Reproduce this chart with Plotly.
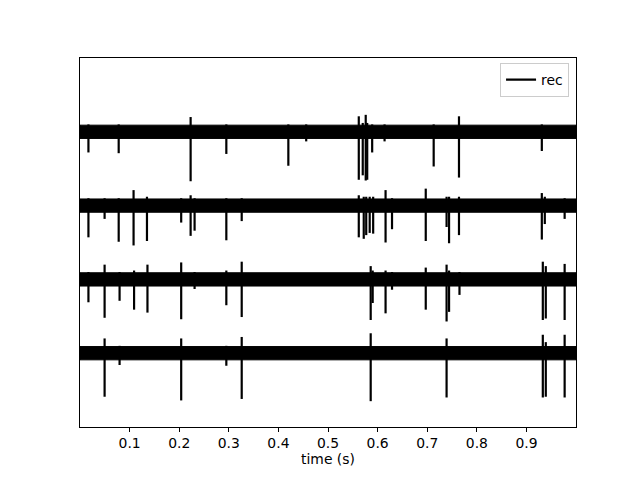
import plotly.graph_objects as go

# channel names and vertical offsets (channel spacing = 1 unit)
channels = ["ch0", "ch1", "ch2", "ch3"]
offsets = [3, 2, 1, 0]
noise_half = [0.09, 0.09, 0.09, 0.09]  # half-height of the noise band (units)
t_start, t_end = 0.0, 0.9999

# spikes per channel: times (s), trough (negative, relative to baseline), peak (positive)
spike_t = [
    [0.017, 0.078, 0.223, 0.295, 0.420, 0.456, 0.562, 0.570, 0.576, 0.579, 0.589, 0.614, 0.713, 0.764, 0.931],
    [0.017, 0.0496, 0.078, 0.108, 0.135, 0.204, 0.223, 0.231, 0.295, 0.326, 0.562, 0.572, 0.577, 0.584,
     0.591, 0.616, 0.629, 0.697, 0.739, 0.744, 0.764, 0.931, 0.937, 0.977],
    [0.017, 0.0496, 0.0798, 0.109, 0.136, 0.204, 0.231, 0.295, 0.326, 0.586, 0.590, 0.616, 0.629, 0.697,
     0.739, 0.744, 0.765, 0.933, 0.939, 0.977],
    [0.0496, 0.0798, 0.204, 0.295, 0.326, 0.586, 0.739, 0.933, 0.939, 0.977],
]
spike_low = [
    [-0.28, -0.29, -0.67, -0.30, -0.46, -0.13, -0.65, -0.59, -0.66, -0.65, -0.28, -0.13, -0.47, -0.62, -0.26],
    [-0.43, -0.18, -0.49, -0.54, -0.48, -0.23, -0.41, -0.34, -0.47, -0.21, -0.43, -0.45, -0.40, -0.37,
     -0.38, -0.50, -0.32, -0.48, -0.29, -0.51, -0.40, -0.46, -0.25, -0.18],
    [-0.31, -0.52, -0.29, -0.41, -0.45, -0.54, -0.13, -0.35, -0.51, -0.55, -0.32, -0.46, -0.14, -0.41,
     -0.57, -0.44, -0.21, -0.55, -0.53, -0.55],
    [-0.59, -0.16, -0.64, -0.17, -0.62, -0.65, -0.60, -0.60, -0.59, -0.60],
]
spike_high = [
    [0.10, 0.10, 0.20, 0.10, 0.10, 0.10, 0.21, 0.12, 0.23, 0.12, 0.10, 0.10, 0.10, 0.21, 0.10],
    [0.10, 0.10, 0.10, 0.21, 0.12, 0.10, 0.14, 0.10, 0.10, 0.10, 0.14, 0.12, 0.12, 0.12,
     0.12, 0.21, 0.10, 0.23, 0.12, 0.12, 0.12, 0.17, 0.12, 0.10],
    [0.10, 0.20, 0.10, 0.12, 0.20, 0.23, 0.10, 0.12, 0.24, 0.18, 0.12, 0.12, 0.10, 0.16,
     0.20, 0.12, 0.10, 0.24, 0.18, 0.21],
    [0.20, 0.10, 0.20, 0.10, 0.22, 0.27, 0.20, 0.25, 0.15, 0.25],
]

xtick_vals = [0.1, 0.2, 0.3, 0.4, 0.5, 0.6, 0.7, 0.8, 0.9]
xtick_text = ["0.1", "0.2", "0.3", "0.4", "0.5", "0.6", "0.7", "0.8", "0.9"]

fig = go.Figure()

# noise bands
for off, h in zip(offsets, noise_half):
    fig.add_trace(go.Scatter(
        x=[t_start, t_end, t_end, t_start, t_start],
        y=[off - h, off - h, off + h, off + h, off - h],
        mode="lines", fill="toself", fillcolor="black",
        line=dict(color="black", width=1),
        showlegend=False, hoverinfo="skip",
    ))

# spikes as vertical strokes
xs, ys = [], []
for off, ts, lo, hi in zip(offsets, spike_t, spike_low, spike_high):
    for t, a, b in zip(ts, lo, hi):
        xs += [t, t, None]
        ys += [off + b, off + a, None]
fig.add_trace(go.Scatter(
    x=xs, y=ys, mode="lines", name="rec",
    line=dict(color="black", width=2.2), showlegend=True,
))

fig.update_layout(
    width=632, height=472,
    margin=dict(l=72, r=64, t=50, b=53),
    paper_bgcolor="white", plot_bgcolor="white",
    font=dict(family="DejaVu Sans", size=13.9, color="black"),
    legend=dict(
        x=0.986, y=0.986, xanchor="right", yanchor="top",
        bgcolor="rgba(255,255,255,0.8)", bordercolor="#cccccc", borderwidth=1,
        font=dict(size=13.9, color="black"),
        itemwidth=30,
    ),
    xaxis=dict(
        range=[t_start, t_end], showgrid=False, zeroline=False,
        showline=True, mirror=True, linecolor="black", linewidth=1,
        ticks="outside", ticklen=3.5, tickwidth=0.8, tickcolor="black",
        tickvals=xtick_vals, ticktext=xtick_text,
        tickfont=dict(size=13.9, color="black"),
        title=dict(text="time (s)", font=dict(size=13.9, color="black"), standoff=4),
    ),
    yaxis=dict(
        range=[-1, 4], showgrid=False, zeroline=False,
        showline=True, mirror=True, linecolor="black", linewidth=1,
        showticklabels=False, ticks="",
    ),
)

fig.write_html("out.html")
